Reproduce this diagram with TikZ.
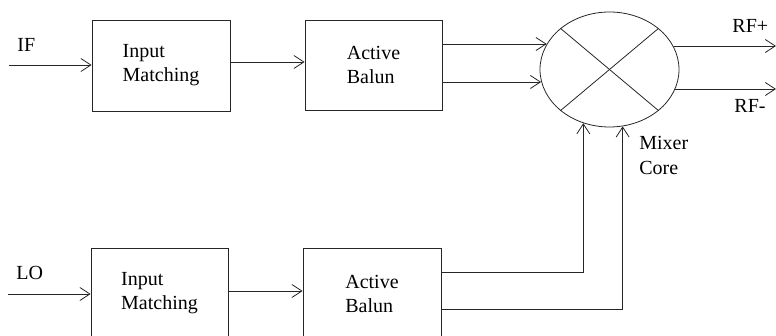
\documentclass[tikz,border=0pt]{standalone}
\usepackage{fontspec}
\setmainfont{Liberation Serif}
\usetikzlibrary{positioning, arrows.meta, shapes.geometric}

\begin{document}
\begin{tikzpicture}
            [x=1pt, y=-1pt, line width=0.8pt, draw=black!85,
             block/.style={draw, minimum width=138pt, minimum height=91pt, inner sep=0pt,
                           align=left, font=\fontsize{20}{24}\selectfont},
             mixer/.style={draw, ellipse, minimum width=139pt, minimum height=115pt, inner sep=0pt},
             lbl/.style={anchor=base west, inner sep=0pt, font=\fontsize{20}{25}\selectfont},
             >={Straight Barb[length=10pt, width=13pt]}]
            \clip (0,0) rectangle (776,336);

            % upper branch
            \node[block] (IM1) at (161,65.5) {Input\\Matching};
            \node[block, minimum width=137pt, minimum height=90pt] (AB1) at (373.5,65) {Active\\Balun};
            % lower branch
            \node[block, minimum width=137pt] (IM2) at (159.5,293.5) {Input\\Matching};
            \node[block] (AB2) at (372,293.5) {Active\\Balun};
            % mixer core
            \node[mixer] (M) at (609.5,69.5) {};

            \coordinate (IF) at (9,65);
            \coordinate (LO) at (8,294);
            \coordinate (RFp) at (776,46);
            \coordinate (RFm) at (776,89);

            \node[lbl] (IFl) at (17,52) {IF};
            \node[lbl] (LOl) at (16,280) {LO};
            \node[lbl] (RFpl) at (732,33) {RF+};
            \node[lbl] (RFml) at (734,113) {RF-};
            \node[lbl, align=left, anchor=north west] (Ml) at (639,135.5) {Mixer\\Core};

            % cross inside the mixer
            \draw (M.140) -- (M.320);
            \draw (M.40) -- (M.220);

            \path [->] (IF) edge (IF -| IM1.west);
            \path [->] (LO) edge (LO -| IM2.west);
            \draw [->] ([yshift=3.5pt]IM1.east) -- ([yshift=3.5pt]IM1.east -| AB1.west);
            \draw [->] ([yshift=2.5pt]IM2.east) -- ([yshift=2.5pt]IM2.east -| AB2.west);

            \draw [->] ([yshift=21pt]AB1.east) -- ([yshift=21pt]AB1.east -| M.158);
            \draw [->] ([yshift=-17pt]AB1.east) -- ([yshift=-17pt]AB1.east -| M.190);
            \draw [->] ([yshift=21.5pt]AB2.east) -| (M.244);
            \draw [->] ([yshift=-15.5pt]AB2.east) -| (M.283);

            \draw [->] (RFp -| M.20) -- (RFp);
            \draw [->] (RFm -| M.343) -- (RFm);
        \end{tikzpicture}
\end{document}
